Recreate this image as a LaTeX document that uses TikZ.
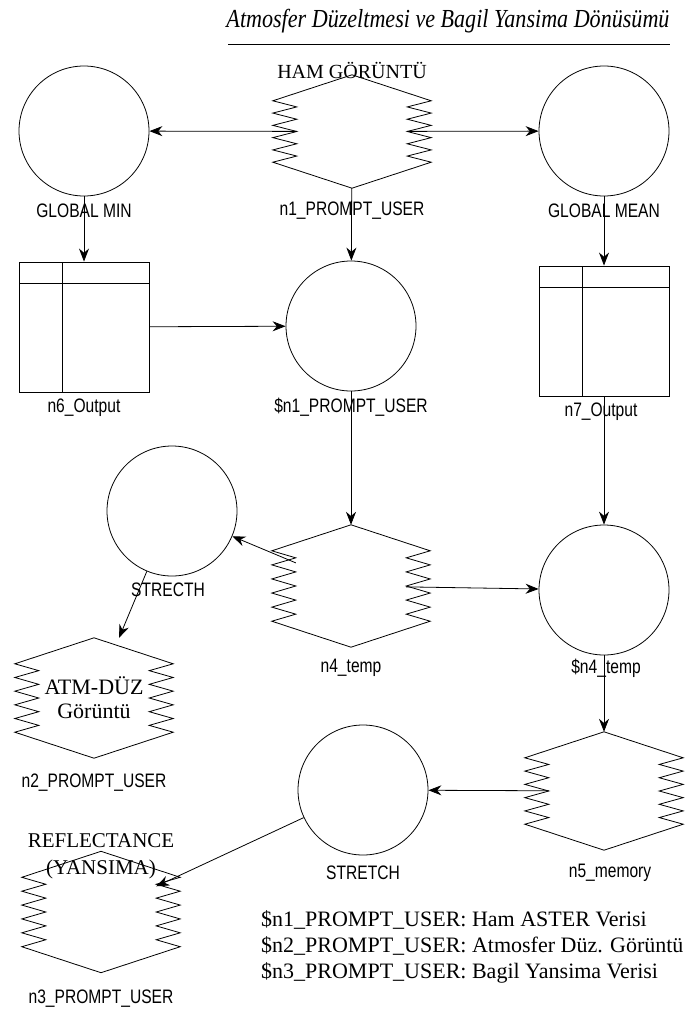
\documentclass[tikz,border=0pt]{standalone}
\usepackage{fontspec}
\setmainfont{Liberation Serif}
\newfontfamily\lblfont[FakeStretch=0.8]{Liberation Sans}
\newfontfamily\titlefont[FakeStretch=0.85]{Liberation Serif}
\usetikzlibrary{arrows.meta,calc}

% zigzag outline round a named zig node
\newcommand\zighex[1]{%
  \draw[line width=0.8pt] (#1.north)
    -- ($([yshift=-26pt]#1.north west)+(-24,0)$)
    foreach \i in {1,...,10}{ -- ($([yshift=-26pt]#1.north west)!\i/10!([yshift=26pt]#1.south west)+({-24*(1-mod(\i,2))},0)$) }
    -- (#1.south)
    -- ($([yshift=26pt]#1.south east)+(24,0)$)
    foreach \i in {1,...,10}{ -- ($([yshift=26pt]#1.south east)!\i/10!([yshift=-26pt]#1.north east)+({24*(1-mod(\i,2))},0)$) }
    -- cycle;}

\tikzset{
  arr/.style={-{Stealth[length=13pt,width=10pt]}, line width=0.8pt},
  proc/.style={circle, draw, line width=0.8pt, minimum size=130pt, inner sep=0pt},
  store/.style={draw, line width=0.9pt, minimum width=130pt, minimum height=130pt, inner sep=0pt,
    path picture={
      \draw[line width=0.9pt] ([yshift=-21pt]path picture bounding box.north west) -- ([yshift=-21pt]path picture bounding box.north east);
      \draw[line width=0.9pt] ([xshift=43pt]path picture bounding box.north west) -- ([xshift=43pt]path picture bounding box.south west);}},
  zig/.style={inner sep=0pt, minimum width=110pt},
  lbl/.style={font=\lblfont\fontsize{19.5}{22}\selectfont, inner sep=0pt},
  big/.style={font=\fontsize{21}{23}\selectfont, inner sep=0pt, align=center},
}

\begin{document}
\begin{tikzpicture}[x=1pt,y=-1pt]
  \useasboundingbox (0,0) rectangle (687,1011);

  % title
  \node[font=\titlefont\itshape\fontsize{26}{30}\selectfont, inner sep=0pt] (title) at (448,21) {Atmosfer Düzeltmesi ve Bagil Yansima Dönüsümü};
  \coordinate (ul1) at (228,44);
  \coordinate (ul2) at (670,44);
  \draw[line width=0.9pt] (ul1) -- (ul2);

  % row 1
  \node[proc] (gmin) at (84,131) {};
  \node[zig, minimum height=113pt] (n1) at (352,131.5) {};
  \zighex{n1}
  \node[proc] (gmean) at (604,131) {};
  \node[big, font=\fontsize{20}{23}\selectfont] (hamtxt) at (352,70) {HAM GÖRÜNTÜ};
  \node[lbl] (gminlbl) at (84,211) {GLOBAL MIN};
  \node[lbl] (n1lbl) at (352,211) {n1\_PROMPT\_USER};
  \node[lbl] (gmeanlbl) at (604,211) {GLOBAL MEAN};

  % row 2
  \node[store] (n6) at (84,327) {};
  \node[proc] (p1) at (351,326) {};
  \node[store] (n7) at (604,331) {};
  \node[lbl] (n6lbl) at (84,408) {n6\_Output};
  \node[lbl] (p1lbl) at (351,407) {\$n1\_PROMPT\_USER};
  \node[lbl] (n7lbl) at (601,412) {n7\_Output};

  % row 3
  \node[proc] (stc) at (172,511) {};
  \node[zig, minimum height=122pt] (n4) at (351,586) {};
  \zighex{n4}
  \node[proc] (p4) at (604,590) {};
  \node[lbl] (stclbl) at (168,590) {STRECTH};
  \node[lbl] (n4lbl) at (351,668) {n4\_temp};
  \node[lbl] (p4lbl) at (606,668) {\$n4\_temp};

  % row 4
  \node[zig, big, font=\fontsize{22}{24}\selectfont, minimum height=120pt] (n2) at (94,698) {ATM-DÜZ\\Görüntü};
  \zighex{n2}
  \node[proc] (stt) at (363,790) {};
  \node[zig, minimum height=118pt] (n5) at (604,791) {};
  \zighex{n5}
  \node[lbl] (n2lbl) at (94,783) {n2\_PROMPT\_USER};
  \node[lbl] (sttlbl) at (363,873) {STRETCH};
  \node[lbl] (n5lbl) at (610,873) {n5\_memory};

  % row 5
  \node[zig, minimum height=121pt] (n3) at (101,912) {};
  \zighex{n3}
  \node[big, font=\fontsize{21}{27}\selectfont] (refltxt) at (101,856) {REFLECTANCE\\(YANSIMA)};
  \node[lbl] (n3lbl) at (101,999) {n3\_PROMPT\_USER};
  \node[anchor=west, font=\fontsize{22}{26}\selectfont, align=left, inner sep=0pt] (legend) at (261,947)
    {\$n1\_PROMPT\_USER: Ham ASTER Verisi\\
     \$n2\_PROMPT\_USER: Atmosfer Düz. Görüntü\\
     \$n3\_PROMPT\_USER: Bagil Yansima Verisi};

  % connectors
  \draw[arr] (n1) -- (gmin);
  \draw[arr] (n1) -- (gmean);
  \draw[arr] (gmin) -- (n6);
  \draw[arr] (n1) -- (p1);
  \draw[arr] (gmean) -- (n7);
  \draw[arr] (n6) -- (p1);
  \draw[arr] (p1) -- (n4);
  \draw[arr] (n7) -- (p4);
  \draw[arr] (n4) -- (stc);
  \draw[arr] (n4) -- (p4);
  \draw[arr] (stc) -- (n2);
  \draw[arr] (p4) -- (n5);
  \draw[arr] (n5) -- (stt);
  \draw[arr] (stt) -- (n3);
\end{tikzpicture}
\end{document}
